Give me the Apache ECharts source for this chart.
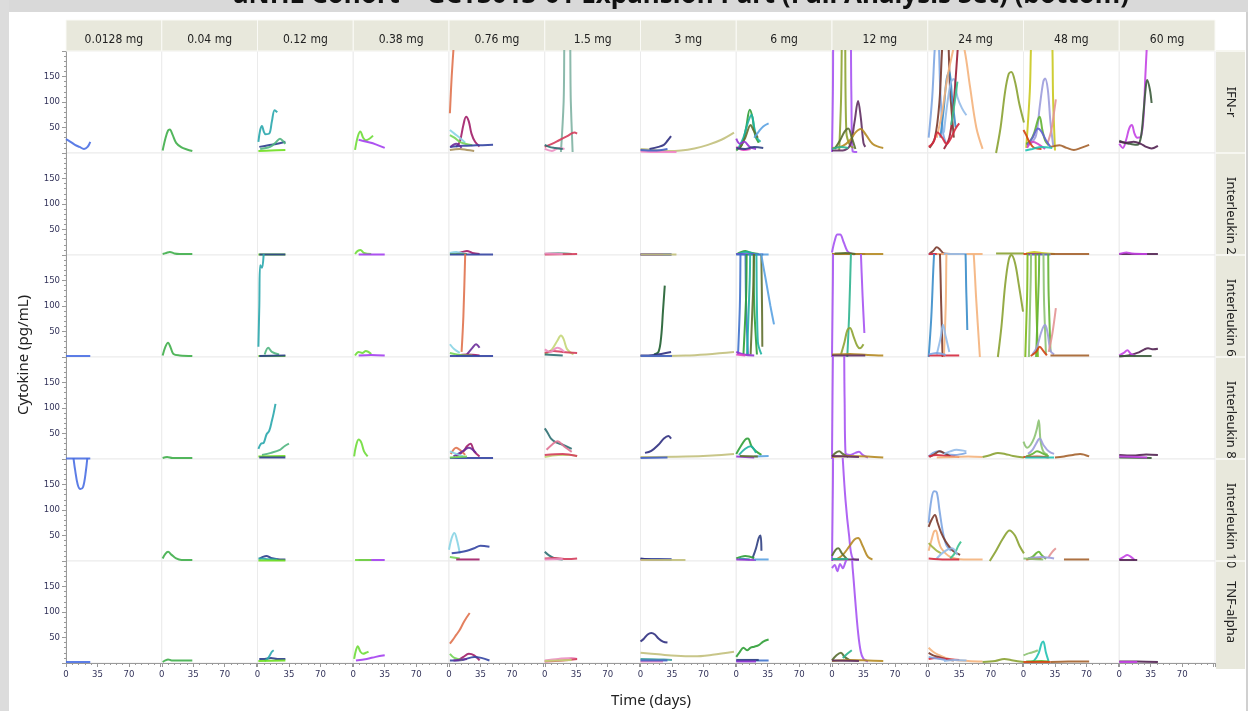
<!DOCTYPE html>
<html><head><meta charset="utf-8">
<script src="https://cdn.jsdelivr.net/npm/echarts@6/dist/echarts.min.js"></script>
<style>html,body{margin:0;padding:0;background:#fff}#chart{width:1248px;height:711px}</style>
</head><body><div id="chart"></div>
<script>
// ---------------- DATA ----------------
const titleText = 'aNHL Cohort \u2013 GCT3013-01 Expansion Part (Full Analysis Set) (bottom)';
const doses = ['0.0128 mg','0.04 mg','0.12 mg','0.38 mg','0.76 mg','1.5 mg','3 mg','6 mg','12 mg','24 mg','48 mg','60 mg'];
const cytokines = ['IFN-r','Interleukin 2','Interleukin 6','Interleukin 8','Interleukin 10','TNF-alpha'];
const xTickLabels = [0, 35, 70];
const yTickLabels = [50, 100, 150];
const xAxisTitle = 'Time (days)';
const yAxisTitle = 'Cytokine (pg/mL)';

// each dose panel: list of [subject, [[day, pg/mL], ...]]
const ifnGamma = [
  [['S01',[[0,27],[5,22],[10,16],[15,12],[20,8],[24,12],[27,22]]]],
  [['S02',[[1,5],[4,28],[7,44],[9,46],[12,36],[16,20],[22,11],[28,7],[34,4]]]],
  [['S04',[[1,22],[3,45],[5,53],[7,42],[9,37],[13,38],[16,62],[19,84],[22,80]]],
   ['S05',[[2,12],[12,15],[22,18],[31,22]]],
   ['S06',[[3,8],[14,12],[20,20],[25,28],[28,24],[31,18]]],
   ['S07',[[1,4],[15,5],[31,6]]]],
  [['S08',[[2,6],[5,32],[8,42],[11,30],[14,25],[18,28],[22,34]]],
   ['S09',[[6,26],[15,22],[25,17],[35,10]]]],
  [['S10',[[1,78],[3,150],[6,230]]],
   ['S11',[[8,12],[12,22],[16,55],[19,71],[22,62],[25,38],[29,22],[34,13]]],
   ['S12',[[1,45],[6,38],[12,30],[18,20]]],
   ['S13',[[1,35],[6,30],[12,22],[18,18],[26,15]]],
   ['S14',[[1,12],[15,14],[30,15],[49,16]]],
   ['S15',[[1,6],[12,8],[20,6],[28,4]]],
   ['S16',[[2,12],[8,18],[14,10]]]],
  [['S17',[[18,2],[21,100],[23,260],[27,260],[29,100],[31,2]]],
   ['S18',[[0,12],[8,18],[16,25],[25,33],[33,40],[36,38]]],
   ['S19',[[0,8],[8,4],[16,10],[22,8]]],
   ['S20',[[0,16],[5,12],[12,10],[20,8]]]],
  [['S23',[[0,8],[15,6],[30,4],[45,5],[60,9],[75,16],[90,26],[104,40]]],
   ['S24',[[10,8],[20,12],[26,16],[30,24],[34,33]]],
   ['S26',[[0,3],[20,2],[40,2]]],
   ['S28',[[0,6],[15,5],[30,8]]]],
  [['S29',[[0,5],[6,15],[11,50],[15,85],[18,70],[21,35],[25,20]]],
   ['S30',[[2,8],[8,30],[13,60],[17,75],[20,50],[23,30],[27,22]]],
   ['S31',[[4,10],[10,30],[16,55],[19,45],[24,30]]],
   ['S32',[[20,30],[25,42],[30,52],[36,58]]],
   ['S33',[[0,28],[4,18],[9,22],[15,12],[22,8]]],
   ['S34',[[0,12],[8,6],[16,8]]],
   ['S36',[[0,10],[10,8],[20,12],[30,10]]]],
  [['S37',[[0,2],[1,120],[2,300],[20,300],[21.5,120],[23,3],[28,2]]],
   ['S38',[[8,5],[10,100],[12,260],[14,260],[16,40],[20,15],[24,10]]],
   ['S39',[[0,5],[12,5],[20,15],[25,60],[29,102],[32,70],[35,20],[37,12]]],
   ['S40',[[0,10],[12,14],[20,25],[26,40],[32,47],[38,35],[45,18],[52,12],[57,10]]],
   ['S41',[[3,8],[9,25],[14,42],[18,48],[22,30],[26,8]]],
   ['S42',[[0,8],[10,12],[18,10]]]],
  [['S43',[[1,30],[5,110],[8,210],[11,260],[14,120],[17,40],[20,20]]],
   ['S44',[[2,10],[8,30],[13,100],[17,230],[21,260],[25,120],[29,30]]],
   ['S45',[[14,30],[18,90],[21,145],[24,160],[27,110],[31,50]]],
   ['S46',[[18,40],[22,100],[26,140],[29,145],[33,110],[38,88],[43,74]]],
   ['S47',[[10,30],[16,80],[22,150],[28,200],[33,240],[40,210],[47,130],[54,50],[61,8]]],
   ['S48',[[18,8],[24,30],[28,80],[32,170],[35,250]]],
   ['S49',[[1,12],[6,20],[11,40],[16,30],[21,18],[26,30],[31,48],[35,58]]],
   ['S50',[[26,55],[30,100],[33,140]]],
   ['S51',[[76,0],[81,50],[86,120],[90,155],[93,159],[97,140],[102,95],[107,60]]]],
  [['S52',[[3,10],[7,120],[10,260],[20,360],[31,260],[33,100],[35,5]]],
   ['S53',[[8,18],[14,35],[18,90],[22,140],[24,146],[27,125],[30,60],[33,15]]],
   ['S54',[[3,18],[8,25],[12,40],[16,65],[18,71],[21,45],[24,25],[28,15]]],
   ['S55',[[27,20],[31,45],[34,80],[36,105]]],
   ['S56',[[4,15],[10,30],[16,48],[20,42],[25,25],[30,12]]],
   ['S57',[[4,10],[10,22],[16,18],[24,8]]],
   ['S58',[[30,12],[40,15],[48,10],[56,6],[64,10],[73,16]]],
   ['S59',[[0,45],[3,35],[7,20],[12,10],[20,8]]],
   ['S61',[[2,5],[10,8],[20,12],[32,10]]]],
  [['S63',[[0,18],[4,10],[8,28],[11,48],[14,55],[17,38],[20,30],[24,32],[27,70],[29,150],[31,220]]],
   ['S64',[[0,24],[6,20],[12,18],[20,16],[24,30],[27,80],[29,120],[31,143],[34,125],[36,98]]],
   ['S65',[[0,22],[8,20],[16,22],[24,18],[30,12],[36,9],[43,14]]]]
];

const interleukin2 = [
  [],
  [['S02',[[1,2],[5,4],[9,6],[14,3],[20,2],[34,2]]]],
  [['S07',[[1,1],[15,1],[31,1]]],['S05',[[2,1],[31,1]]]],
  [['S08',[[2,2],[5,8],[8,10],[12,4],[20,2]]],['S09',[[6,1],[35,1]]]],
  [['S11',[[8,2],[15,6],[20,8],[26,4],[34,2]]],['S12',[[1,4],[8,6],[16,3]]],['S13',[[1,2],[20,2]]],['S14',[[1,1],[49,1]]]],
  [['S17',[[0,2],[15,4],[30,2]]],['S18',[[0,1],[36,2]]],['S19',[[0,3],[20,2]]]],
  [['S28',[[0,1],[35,1]]],['S26',[[0,1],[25,1]]],['S24',[[0,1],[34,1]]],['S23',[[0,1],[40,1]]]],
  [['S29',[[0,1],[10,8],[15,5],[25,2]]],['S30',[[2,2],[12,6],[20,2]]],['S33',[[0,2],[22,1]]],['S32',[[20,1],[36,1]]],['S35',[[0,1],[30,1]]]],
  [['S37',[[0,5],[3,28],[6,40],[9,40],[13,25],[17,8],[21,3],[25,1]]],['S39',[[0,2],[37,2]]],['S40',[[0,2],[57,2]]],['S41',[[3,3],[15,4],[26,2]]]],
  [['S44',[[2,3],[6,8],[10,15],[14,10],[18,3],[29,2]]],['S43',[[1,2],[20,2]]],['S49',[[1,2],[35,2]]],['S47',[[10,2],[61,2]]],['S51',[[76,3],[107,3]]],['S46',[[18,2],[43,2]]]],
  [['S54',[[3,2],[28,2]]],['S52',[[3,3],[12,6],[20,4],[35,2]]],['S59',[[0,2],[20,2]]],['S58',[[30,2],[73,2]]],['S56',[[4,1],[30,1]]]],
  [['S65',[[0,2],[43,2]]],['S63',[[0,2],[8,5],[14,3],[31,2]]]]
];

const interleukin6 = [
  [['S01',[[0,2],[27,2]]]],
  [['S02',[[1,3],[4,20],[7,28],[10,18],[13,6],[20,3],[34,2]]]],
  [['S04',[[1,20],[2,100],[3,180],[5,175],[7,205],[9,260]]],['S07',[[1,2],[31,2]]],['S06',[[8,5],[12,18],[16,10],[24,5]]],['S05',[[2,2],[31,3]]]],
  [['S08',[[2,3],[6,10],[10,8],[14,12],[20,6]]],['S09',[[6,3],[20,4],[35,3]]]],
  [['S10',[[14,10],[16,80],[18,200],[19,260]]],['S12',[[1,25],[6,15],[12,8]]],['S16',[[20,5],[26,18],[30,25],[34,18]]],['S11',[[8,3],[20,5],[34,3]]],['S13',[[1,8],[12,4],[26,3]]],['S14',[[1,2],[49,2]]]],
  [['S21',[[0,5],[8,15],[14,32],[18,42],[21,35],[25,15],[32,5]]],['S18',[[0,8],[10,12],[20,10],[36,8]]],['S19',[[0,15],[6,10],[14,18],[22,10]]],['S20',[[0,5],[20,3]]]],
  [['S25',[[15,5],[20,10],[23,40],[25,90],[27,140]]],['S24',[[0,3],[15,4],[34,10]]],['S23',[[0,2],[50,3],[104,10]]],['S28',[[0,2],[35,2]]]],
  [['S35',[[2,5],[4,100],[6,260],[9,260],[11,100],[13,5]]],['S29',[[8,5],[11,120],[13,260],[18,260],[20,100],[23,5]]],['S30',[[12,5],[15,150],[17,260],[21,260],[24,30],[28,5]]],['S31',[[16,5],[19,140],[22,260],[26,260],[29,20]]],['S32',[[24,260],[28,200],[33,150],[38,100],[42,64]]],['S33',[[0,10],[8,5],[20,3]]],['S34',[[0,5],[10,3]]]],
  [['S37',[[0,0],[1,150],[2,300],[30,300],[32,210],[34,120],[36,47]]],['S42',[[17,0],[19,80],[21,200],[22,260]]],['S38',[[10,5],[14,30],[17,52],[20,57],[24,40],[28,22],[31,17],[35,25]]],['S40',[[0,5],[20,6],[40,4],[57,3]]],['S39',[[0,3],[37,3]]]],
  [['S45',[[1,0],[4,80],[7,200],[10,260],[14,260],[20,300],[30,300],[40,260],[43,120],[44,53]]],['S44',[[0,300],[10,300],[13,230],[15,100],[16.5,0]]],['S47',[[18,0],[20,100],[22,260],[30,300],[45,300],[50,230],[54,110],[58,0]]],['S46',[[10,5],[14,35],[17,63],[20,40],[24,10]]],['S51',[[78,0],[82,60],[86,140],[90,190],[93,200],[97,185],[101,145],[106,89]]],['S49',[[1,3],[35,3]]],['S43',[[1,5],[10,8],[20,4]]]],
  [['S62',[[2,0],[4,120],[6,260],[12,260],[14,120],[16,0]]],['S54',[[14,0],[17,150],[19,260],[26,260],[28,120],[30,10]]],['S60',[[6,0],[8,150],[10,260],[20,260],[23,100],[25,5]]],['S53',[[10,5],[15,20],[20,50],[24,63],[27,45],[30,12],[34,5]]],['S59',[[8,2],[14,10],[18,20],[22,12],[26,3]]],['S55',[[28,10],[32,45],[36,96]]],['S58',[[30,3],[73,3]]]],
  [['S65',[[0,1],[10,3],[20,8],[28,15],[32,17],[38,15],[43,16]]],['S63',[[0,3],[5,8],[9,13],[13,6],[18,2]]],['S64',[[0,2],[36,2]]]]
];

const interleukin8 = [
  [['S01',[[0,1],[27,1]]]],
  [['S02',[[1,2],[6,4],[12,2],[34,2]]]],
  [['S04',[[1,20],[4,30],[7,32],[10,48],[13,55],[16,75],[18,90],[20,108]]],['S06',[[5,8],[15,12],[25,18],[30,25],[35,30]]],['S07',[[1,5],[31,6]]],['S05',[[2,3],[31,3]]]],
  [['S08',[[1,5],[3,25],[6,38],[9,32],[12,15],[16,5]]]],
  [['S11',[[8,5],[16,15],[20,25],[24,30],[28,15],[34,5]]],['S10',[[2,10],[8,22],[12,18],[18,8]]],['S16',[[5,5],[15,15],[22,22],[30,12]]],['S12',[[1,15],[8,10],[16,5]]],['S14',[[1,2],[49,2]]],['S13',[[1,3],[20,5]]]],
  [['S20',[[0,60],[3,52],[7,40],[12,33],[20,28],[30,20]]],['S22',[[2,18],[8,28],[14,35],[22,24],[30,14]]],['S21',[[0,4],[15,8],[30,8],[36,5]]],['S18',[[0,8],[20,10],[36,6]]]],
  [['S24',[[5,12],[12,16],[20,28],[26,40],[31,45],[34,40]]],['S23',[[0,4],[50,5],[80,7],[104,10]]],['S28',[[0,2],[30,3]]]],
  [['S29',[[0,10],[5,25],[10,38],[13,40],[17,25],[22,15],[28,8]]],['S30',[[3,8],[10,20],[16,25],[22,12]]],['S32',[[20,5],[36,6]]],['S33',[[0,5],[20,3]]],['S31',[[4,6],[24,5]]]],
  [['S37',[[0,0],[1,200],[2,300],[12,300],[14,120],[15,12],[20,8],[26,12],[30,14],[34,8],[40,3]]],['S41',[[0,5],[4,12],[8,15],[12,10],[18,4]]],['S40',[[0,4],[20,6],[40,5],[57,3]]],['S39',[[0,6],[15,5],[30,4]]]],
  [['S43',[[1,5],[6,12],[12,15],[20,10],[30,8],[43,12]]],['S44',[[2,4],[8,10],[13,15],[18,12],[25,5]]],['S49',[[1,5],[10,8],[20,6],[35,4]]],['S46',[[18,10],[25,15],[32,18],[43,15]]],['S47',[[10,3],[30,4],[45,5],[61,4]]],['S51',[[61,4],[70,8],[78,12],[86,10],[95,6],[107,3]]]],
  [['S60',[[0,34],[4,22],[8,28],[12,42],[15,60],[17,76],[19,35],[22,15],[27,8]]],['S53',[[5,10],[10,18],[14,30],[18,40],[22,28],[28,15],[34,10]]],['S54',[[3,5],[10,10],[15,15],[20,12],[28,5]]],['S58',[[35,3],[45,5],[55,8],[63,10],[73,5]]],['S59',[[0,4],[15,5],[28,3]]],['S61',[[2,3],[20,3],[34,3]]]],
  [['S65',[[0,8],[15,7],[30,9],[43,8]]],['S64',[[0,3],[36,2]]],['S63',[[0,5],[20,4],[31,3]]]]
];

const interleukin10 = [
  [['S01',[[0,260],[7,215],[10,180],[13,150],[16,141],[19,145],[22,175],[25,225]]]],
  [['S02',[[1,5],[4,14],[7,18],[11,12],[16,5],[22,2],[34,2]]]],
  [['S05',[[2,4],[6,8],[10,10],[15,6],[25,3],[31,3]]],['S04',[[1,5],[10,4],[22,3]]],['S07',[[1,1],[31,1]]]],
  [['S09',[[6,2],[35,2]]],['S08',[[2,2],[20,2]]]],
  [['S12',[[0,22],[3,45],[6,55],[9,40],[12,15]]],['S14',[[3,15],[12,17],[20,20],[28,25],[35,30],[45,28]]],['S13',[[1,8],[12,5]]],['S11',[[8,3],[34,3]]]],
  [['S20',[[0,18],[4,12],[10,6],[20,3]]],['S18',[[0,5],[10,6],[25,4],[36,5]]],['S19',[[0,3],[20,4]]]],
  [['S28',[[0,4],[20,4],[35,3]]],['S26',[[0,2],[25,2]]],['S24',[[0,5],[15,3],[34,3]]],['S23',[[0,2],[50,2]]]],
  [['S36',[[18,5],[22,25],[25,45],[27,50],[28,20]]],['S29',[[0,5],[10,10],[20,6]]],['S30',[[3,5],[15,3]]],['S33',[[0,3],[22,2]]],['S32',[[20,3],[36,3]]]],
  [['S37',[[0,0],[1,150],[2,300],[9,300],[12,200],[15,120],[19,50],[23,5],[30,2]]],['S40',[[5,3],[12,12],[19,28],[25,42],[29,45],[34,30],[40,8],[45,3]]],['S41',[[0,10],[4,22],[7,25],[11,15],[16,5]]],['S39',[[0,3],[30,3]]],['S42',[[0,4],[18,4]]]],
  [['S43',[[1,75],[4,120],[7,137],[10,135],[13,100],[17,55],[21,30],[26,20]]],['S44',[[1,67],[4,80],[8,90],[11,75],[15,55],[20,38],[28,20],[36,12]]],['S47',[[1,20],[4,40],[7,58],[9,60],[12,40],[15,25],[25,8],[40,3],[61,3]]],['S50',[[25,5],[30,15],[34,30],[37,38]]],['S51',[[69,0],[76,20],[84,45],[91,60],[97,50],[102,30],[107,15]]],['S66',[[1,35],[5,28],[10,20],[15,15]]],['S46',[[10,5],[18,18],[27,25],[33,12]]],['S49',[[1,5],[20,3],[35,3]]]],
  [['S54',[[5,5],[10,8],[14,15],[17,18],[20,12],[25,4]]],['S59',[[3,3],[12,5],[20,4]]],['S55',[[28,8],[32,18],[36,25]]],['S53',[[5,5],[20,8],[34,5]]],['S58',[[45,3],[73,3]]],['S60',[[0,5],[10,4],[22,3]]]],
  [['S63',[[0,3],[5,8],[9,12],[13,8],[17,2]]],['S65',[[0,2],[20,2]]]]
];

const tnfAlpha = [
  [['S01',[[0,2],[27,2]]]],
  [['S02',[[1,2],[4,5],[7,7],[11,5],[20,5],[34,5]]]],
  [['S05',[[2,8],[8,8],[15,10],[22,8],[31,8]]],['S04',[[8,4],[12,10],[16,22],[18,25]]],['S07',[[1,4],[31,5]]]],
  [['S08',[[1,8],[3,25],[5,33],[8,22],[11,18],[14,20],[17,22]]],['S09',[[3,5],[15,8],[25,12],[35,15]]]],
  [['S10',[[1,38],[4,45],[8,55],[12,65],[17,82],[23,98]]],['S11',[[10,5],[16,12],[22,18],[28,15],[34,5]]],['S14',[[1,5],[15,6],[28,12],[36,10],[45,5]]],['S13',[[1,18],[6,10],[15,6]]],['S16',[[5,5],[20,8]]]],
  [['S19',[[0,5],[15,8],[30,10],[36,8]]],['S18',[[0,3],[20,5],[36,8]]],['S21',[[0,4],[30,6]]]],
  [['S24',[[0,42],[4,48],[8,56],[12,59],[16,56],[20,48],[25,42],[30,40]]],['S23',[[0,20],[20,17],[40,14],[60,13],[80,16],[104,22]]],['S27',[[0,8],[20,7],[35,6]]],['S26',[[0,3],[25,3]]],['S28',[[0,5],[30,5]]]],
  [['S29',[[0,12],[4,22],[8,30],[12,25],[16,30],[20,32],[25,35],[30,42],[36,46]]],['S35',[[0,4],[20,5],[36,5]]],['S36',[[0,6],[25,6]]],['S33',[[0,3],[22,3]]]],
  [['S37',[[0,186],[3,192],[6,180],[9,194],[12,186],[15,198],[18,210],[21,215],[23,185],[26,120],[29,60],[32,22],[35,8],[40,3]]],['S41',[[0,5],[5,15],[10,20],[14,12],[20,5]]],['S42',[[12,10],[17,18],[22,25]]],['S40',[[0,4],[20,6],[40,5],[57,4]]],['S39',[[0,5],[30,4]]]],
  [['S47',[[1,30],[6,22],[12,16],[20,10],[30,6],[45,4],[61,3]]],['S44',[[1,20],[6,15],[12,12],[20,8],[29,5]]],['S49',[[1,8],[10,10],[20,8],[35,6]]],['S43',[[1,12],[10,9],[20,6]]],['S51',[[61,2],[75,4],[85,8],[95,5],[107,2]]],['S46',[[18,4],[30,6],[43,5]]]],
  [['S61',[[8,2],[12,5],[17,20],[20,38],[22,42],[25,20],[28,3]]],['S60',[[0,15],[4,18],[8,20],[12,22],[16,25]]],['S58',[[30,2],[50,3],[73,3]]],['S54',[[3,3],[20,4],[28,3]]],['S59',[[0,2],[30,2]]]],
  [['S65',[[0,3],[20,3],[43,2]]],['S63',[[0,2],[20,2]]]]
];

const panelsByCytokine = [ifnGamma, interleukin2, interleukin6, interleukin8, interleukin10, tnfAlpha];

// ---------------- STYLE ----------------
const subjectColors = {
  S01:'#4a6fe3',S02:'#3fae4a',S04:'#2aa7ad',S05:'#2b3d8c',S06:'#50b57f',S07:'#6ede1e',S08:'#6fdc3a',S09:'#a43ff0',
  S10:'#e0724e',S11:'#a11d68',S12:'#88d4e4',S13:'#74d456',S14:'#3344a2',S15:'#a8905a',S16:'#6a2c9a',
  S17:'#7fb3a3',S18:'#d43d5c',S19:'#ec8fc2',S20:'#2e6f72',S21:'#c4d678',S22:'#e07394',
  S23:'#c2c07c',S24:'#2f2f7f',S25:'#1f5e2f',S26:'#f282c6',S27:'#3fa2a0',S28:'#4262c4',
  S29:'#2f9e36',S30:'#1fb3a2',S31:'#5f6f2e',S32:'#5aa2e2',S33:'#9233d2',S34:'#e243c2',S35:'#3f72cc',S36:'#2f3f82',
  S37:'#a653f2',S38:'#8da332',S39:'#5f2f62',S40:'#b58a22',S41:'#566d2f',S42:'#2fb48f',
  S43:'#7ea6e2',S44:'#7a3a2c',S45:'#3a8dca',S46:'#93bbe9',S47:'#f4b27c',S48:'#9a1c32',S49:'#d5293e',S50:'#3cc28e',S51:'#8aa232',S66:'#a3b443',
  S52:'#c9c81f',S53:'#9c9cdb',S54:'#62b232',S55:'#e39494',S56:'#6262d2',S57:'#d243c3',S58:'#a4622c',S59:'#d24312',S60:'#8cc272',S61:'#21c2b2',S62:'#7db81a',
  S63:'#c443e4',S64:'#3b5b3b',S65:'#522252'
};
const L = 66, T = 51, CW = (1215 - 66) / 12, CH = 102;
const X_MAX = 106.5, Y_MAX = 200;
const STRIP = '#e8e8dc', AXIS = '#9a9a9a', LABEL = '#33335a';
const NARROW = '"DejaVu Sans Condensed", "Liberation Sans Narrow", "Noto Sans", sans-serif';
const SANS = '"Noto Sans", "Open Sans", sans-serif';

const grids = [], xAxes = [], yAxes = [], series = [];
cytokines.forEach((cy, r) => {
  doses.forEach((d, c) => {
    const idx = r * doses.length + c;
    grids.push({left: L + c * CW, top: T + r * CH, width: CW, height: CH,
      show: true, backgroundColor: '#fff', borderColor: '#ebebeb', borderWidth: 1});
    const bottom = r === cytokines.length - 1, left = c === 0;
    xAxes.push({gridIndex: idx, type: 'value', min: 0, max: X_MAX, interval: 35,
      axisLine: {show: bottom, onZero: false, lineStyle: {color: AXIS}},
      axisTick: {show: bottom, length: 4, lineStyle: {color: AXIS}},
      minorTick: {show: bottom, splitNumber: 5, length: 2, lineStyle: {color: AXIS}},
      axisLabel: {show: bottom, margin: 7, fontSize: 9.5, color: LABEL, fontFamily: NARROW,
        formatter: v => xTickLabels.includes(v) ? String(v) : ''},
      splitLine: {show: false}});
    yAxes.push({gridIndex: idx, type: 'value', min: 0, max: Y_MAX, interval: 50,
      axisLine: {show: left, onZero: false, lineStyle: {color: AXIS}},
      axisTick: {show: left, length: 4, lineStyle: {color: AXIS}},
      minorTick: {show: left, splitNumber: 5, length: 2, lineStyle: {color: AXIS}},
      axisLabel: {show: left, margin: 6, fontSize: 9.5, color: LABEL, fontFamily: NARROW,
        formatter: v => yTickLabels.includes(v) ? String(v) : ''},
      splitLine: {show: false}});
    panelsByCytokine[r][c].forEach(([sid, pts]) => {
      series.push({type: 'line', xAxisIndex: idx, yAxisIndex: idx, data: pts,
        smooth: 0.35, symbol: 'none', clip: true, silent: true,
        lineStyle: {width: 2, color: subjectColors[sid], opacity: 0.9},
        itemStyle: {color: subjectColors[sid]}});
    });
  });
});

const graphics = [];
// frame
graphics.push({type: 'rect', shape: {x: 0, y: 0, width: 1248, height: 12}, style: {fill: '#d9d9d9'}, z: 1});
graphics.push({type: 'rect', shape: {x: 0, y: 0, width: 9, height: 711}, style: {fill: '#dcdcdc'}, z: 1});
graphics.push({type: 'rect', shape: {x: 1246, y: 12, width: 2, height: 699}, style: {fill: '#d0d0d0'}, z: 1});
graphics.push({type: 'text', x: 681, y: -4, z: 2,
  style: {text: titleText, font: 'bold 26px ' + SANS, fill: '#111', textAlign: 'center', textVerticalAlign: 'middle'}});
// column header strip
doses.forEach((d, c) => {
  graphics.push({type: 'rect', shape: {x: L + c * CW, y: 20, width: CW, height: 31},
    style: {fill: STRIP, stroke: '#fafaf6', lineWidth: 1}, z: 1});
  graphics.push({type: 'text', x: L + c * CW + CW / 2, y: 40, z: 2,
    style: {text: d, font: '12px ' + NARROW, fill: '#222', textAlign: 'center', textVerticalAlign: 'middle'}});
});
// row strip
cytokines.forEach((cy, r) => {
  const top = T + r * CH;
  graphics.push({type: 'rect', shape: {x: 1216, y: top, width: 29, height: CH},
    style: {fill: STRIP}, z: 1});
  const centered = cy.length <= 9;
  graphics.push({type: 'text', x: 1231, y: centered ? top + CH / 2 : top + 24, rotation: -Math.PI / 2, z: 2,
    style: {text: cy, font: '13px ' + SANS, fill: '#222', textAlign: centered ? 'center' : 'left', textVerticalAlign: 'middle'}});
  graphics.push({type: 'rect', shape: {x: 1216, y: top - 1, width: 29, height: 2}, style: {fill: '#f6f6f0'}, z: 3});
});
graphics.push({type: 'rect', shape: {x: 1216, y: T + 6 * CH, width: 29, height: 6}, style: {fill: STRIP}, z: 1});
// axis titles
graphics.push({type: 'text', x: 24, y: 355, rotation: Math.PI / 2, z: 2,
  style: {text: yAxisTitle, font: '15px ' + SANS, fill: '#222', textAlign: 'center', textVerticalAlign: 'middle'}});
graphics.push({type: 'text', x: 651, y: 701, z: 2,
  style: {text: xAxisTitle, font: '15px ' + SANS, fill: '#222', textAlign: 'center', textVerticalAlign: 'middle'}});

const chart = echarts.init(document.getElementById('chart'), null, {renderer: 'canvas'});
chart.setOption({
  animation: false,
  backgroundColor: '#fff',
  grid: grids, xAxis: xAxes, yAxis: yAxes, series: series,
  graphic: {elements: graphics}
});
</script></body></html>
